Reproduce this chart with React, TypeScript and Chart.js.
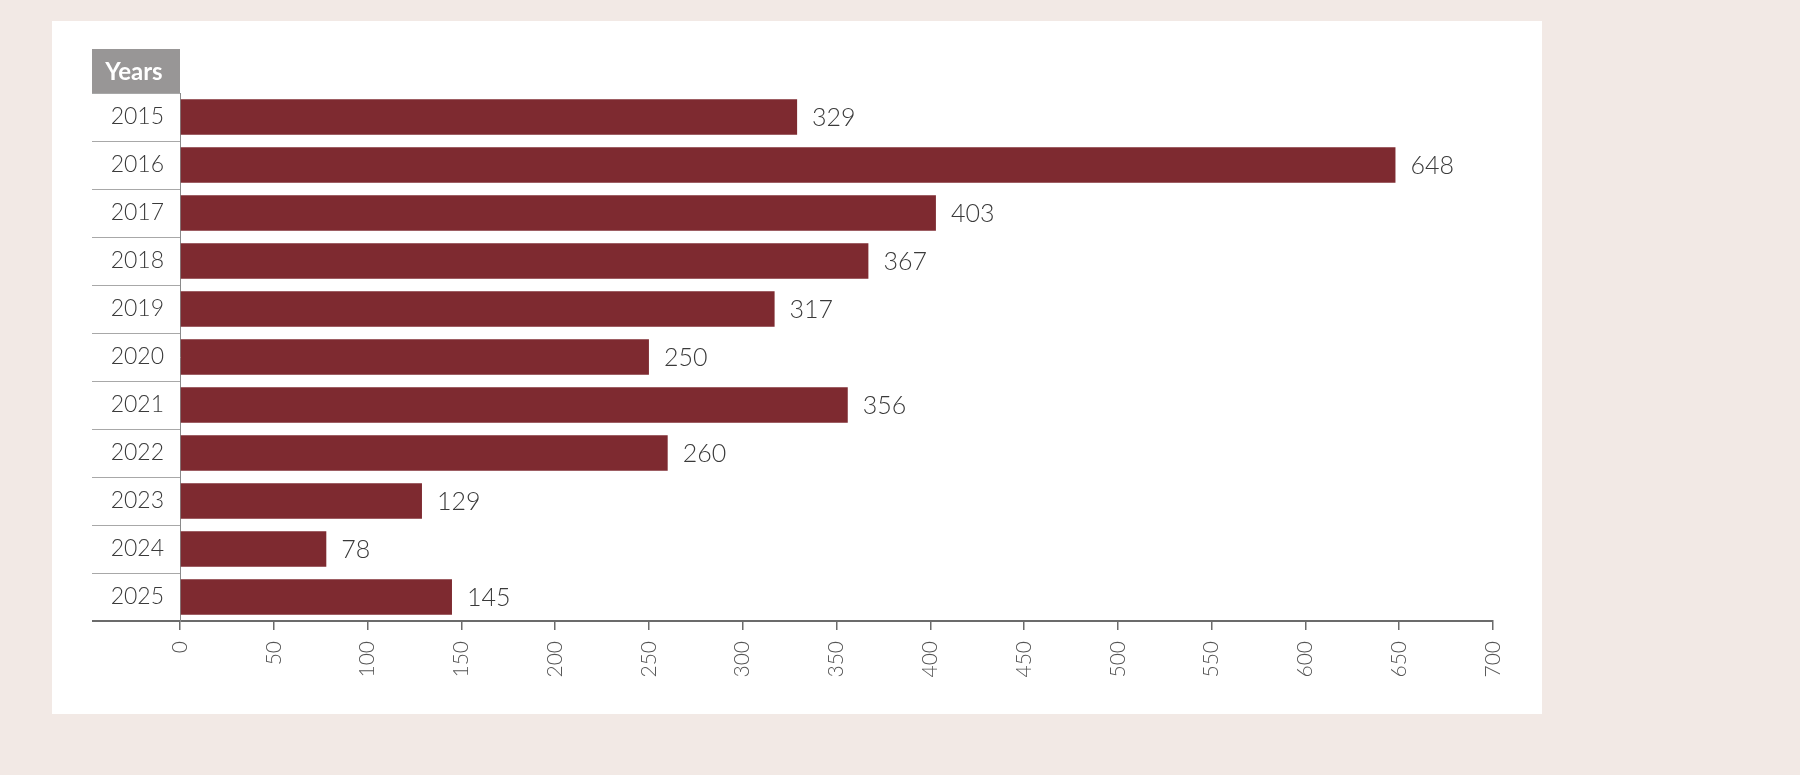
import React, { useEffect, useRef } from "react";
import { Chart, registerables } from "chart.js";

Chart.register(...registerables);

const years = ["2015", "2016", "2017", "2018", "2019", "2020", "2021", "2022", "2023", "2024", "2025"];
const counts = [329, 648, 403, 367, 317, 250, 356, 260, 129, 78, 145];
const xTicks = [0, 50, 100, 150, 200, 250, 300, 350, 400, 450, 500, 550, 600, 650, 700];

const FONT = "Lato, 'Open Sans', sans-serif";

// cabecera gris "Years" encima de las etiquetas del eje y
const headerPlugin = {
  id: "yearsHeader",
  afterDraw(chart: any) {
    const { ctx, chartArea, scales } = chart;
    const y = scales.y;
    const w = y.right - y.left;
    const h = 44;
    ctx.save();
    ctx.fillStyle = "#989696";
    ctx.fillRect(y.left, chartArea.top - h, w, h);
    ctx.fillStyle = "#ffffff";
    ctx.font = `bold 24px ${FONT}`;
    ctx.textAlign = "center";
    ctx.textBaseline = "middle";
    ctx.fillText("Years", y.left + w / 2 - 2, chartArea.top - h / 2 + 1);
    ctx.restore();
  },
};

// valores al final de cada barra
const valueLabels = {
  id: "valueLabels",
  afterDatasetsDraw(chart: any) {
    const { ctx } = chart;
    const meta = chart.getDatasetMeta(0);
    ctx.save();
    ctx.fillStyle = "#3a3a3a";
    ctx.font = `300 25px ${FONT}`;
    ctx.textAlign = "left";
    ctx.textBaseline = "middle";
    meta.data.forEach((bar: any, i: number) => {
      ctx.fillText(String(counts[i]), bar.x + 15, bar.y + 1);
    });
    ctx.restore();
  },
};

const BarChart: React.FC = () => {
  const canvasRef = useRef<HTMLCanvasElement>(null);
  const chartRef = useRef<Chart | null>(null);

  useEffect(() => {
    if (!canvasRef.current) return;
    if (chartRef.current) chartRef.current.destroy();

    chartRef.current = new Chart(canvasRef.current, {
      type: "bar",
      data: {
        labels: years,
        datasets: [
          {
            data: counts,
            backgroundColor: "#7e2a30",
            borderWidth: 0,
            barPercentage: 0.74,
            categoryPercentage: 1,
          },
        ],
      },
      options: {
        animation: false,
        responsive: true,
        maintainAspectRatio: false,
        indexAxis: "y",
        layout: { padding: { left: 40, top: 72, right: 49, bottom: 0 } },
        plugins: {
          legend: { display: false },
          tooltip: { enabled: false },
        },
        scales: {
          x: {
            min: 0,
            max: 700,
            afterBuildTicks: (scale: any) => {
              scale.ticks = xTicks.map((v) => ({ value: v }));
            },
            afterFit: (scale: any) => {
              scale.height = 93;
            },
            grid: {
              drawOnChartArea: false,
              drawTicks: true,
              tickLength: 9,
              color: "#6b6b6b",
              lineWidth: 1.5,
            },
            border: { display: true, color: "#6b6b6b", width: 2 },
            ticks: {
              minRotation: 90,
              maxRotation: 90,
              padding: 11,
              color: "#555555",
              font: { family: FONT, size: 21, weight: "300" },
            },
          },
          y: {
            afterFit: (scale: any) => {
              scale.width = 88;
            },
            grid: {
              offset: true,
              drawOnChartArea: false,
              drawTicks: true,
              tickLength: 88,
              color: (c: any) => (c.type === "scale" ? "#6b6b6b" : "#a8a8a8"),
              lineWidth: (c: any) => (c.type === "scale" ? 2 : 1),
            },
            border: { display: true, color: "#8a8a8a", width: 1 },
            ticks: {
              padding: -72,
              color: "#3a3a3a",
              font: { family: FONT, size: 23, weight: "300" },
            },
          },
        },
      },
      plugins: [headerPlugin, valueLabels],
    });

    return () => {
      if (chartRef.current) {
        chartRef.current.destroy();
        chartRef.current = null;
      }
    };
  }, []);

  return <canvas ref={canvasRef} />;
};

export default function App() {
  return (
    <div
      style={{
        position: "fixed",
        inset: 0,
        width: 1800,
        height: 775,
        background: "#f2e9e5",
      }}
    >
      <div
        style={{
          position: "absolute",
          left: 52,
          top: 21,
          width: 1490,
          height: 693,
          background: "#ffffff",
        }}
      >
        <BarChart />
      </div>
    </div>
  );
}
